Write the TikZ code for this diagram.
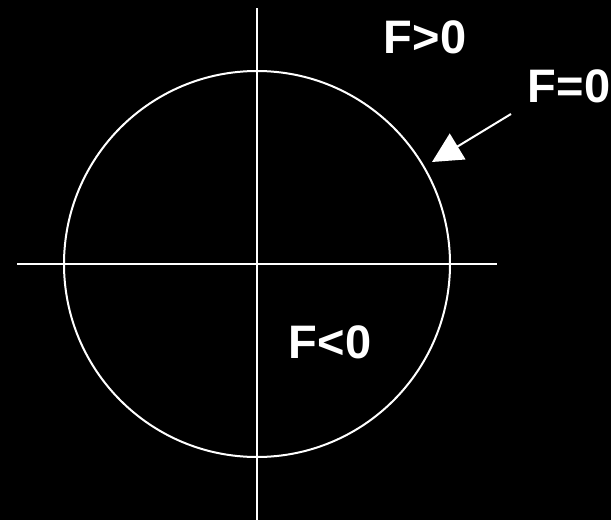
\documentclass[tikz,border=0pt]{standalone}
\usepackage{fontspec}
\setmainfont{Liberation Sans}
\usetikzlibrary{arrows.meta}
\begin{document}
\begin{tikzpicture}[x=1pt,y=-1pt,
  lbl/.style={text=white,font=\bfseries\fontsize{47}{52}\selectfont,inner sep=0pt,anchor=base},
  ln/.style={draw=white,line width=2pt}]
\fill[black] (0,0) rectangle (611,520);
\useasboundingbox (0,0) rectangle (611,520);
\coordinate (L) at (17,264);
\coordinate (R) at (497,264);
\coordinate (T) at (257,8);
\coordinate (B) at (257,520);
\coordinate (O) at (257,264);
\draw[ln] (L) -- (R);
\draw[ln] (T) -- (B);
\draw[ln] (O) circle[radius=193];
\node[lbl] (pos) at (425,53) {F>0};
\node[lbl] (zero) at (569,102) {F=0};
\node[lbl] (neg) at (330,358) {F<0};
\coordinate (a1) at (511,114);
\coordinate (a2) at (432,162);
\draw[ln,-{Triangle[length=30pt,width=30pt]}] (a1) -- (a2);
\end{tikzpicture}
\end{document}
